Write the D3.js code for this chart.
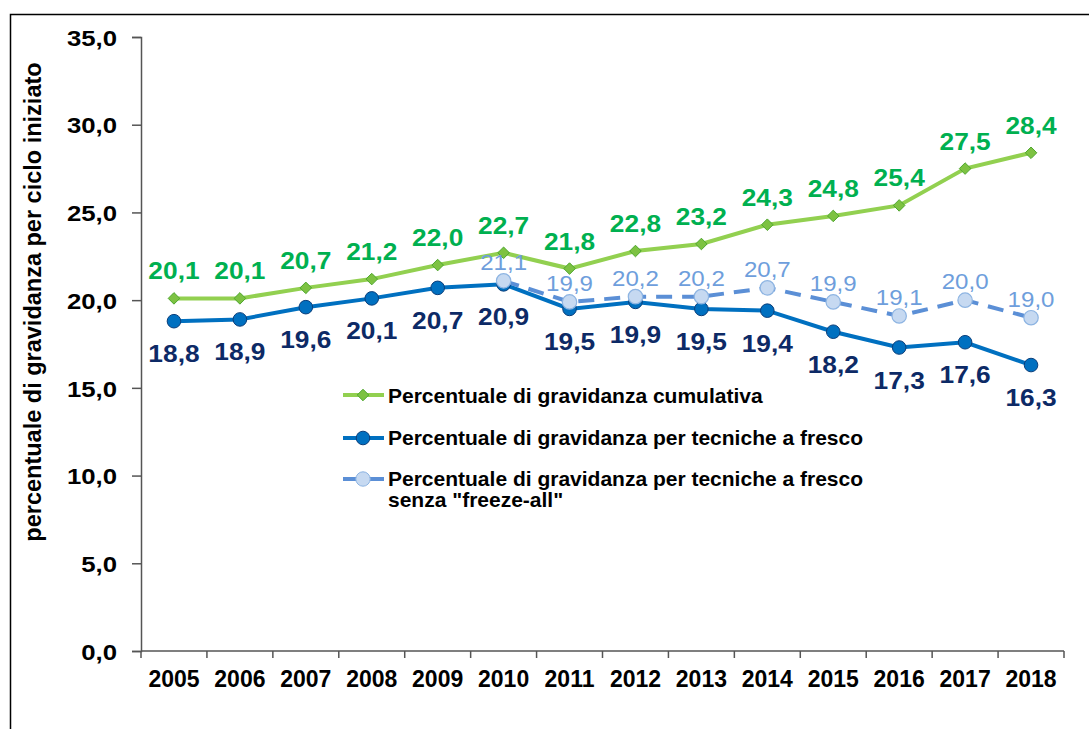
<!DOCTYPE html>
<html>
<head>
<meta charset="utf-8">
<script src="https://cdn.jsdelivr.net/npm/d3@7"></script>
<style>
  body { margin: 0; background: #fff; }
  svg { font-family: "Liberation Sans", Arial, sans-serif; }
</style>
</head>
<body>
<div class="chart"></div>
<script>
(function() {
  'use strict';

  var years = ["2005", "2006", "2007", "2008", "2009", "2010", "2011", "2012", "2013", "2014", "2015", "2016", "2017", "2018"];
  var cumulativa = [20.1, 20.1, 20.7, 21.2, 22.0, 22.7, 21.8, 22.8, 23.2, 24.3, 24.8, 25.4, 27.5, 28.4];
  var fresco = [18.8, 18.9, 19.6, 20.1, 20.7, 20.9, 19.5, 19.9, 19.5, 19.4, 18.2, 17.3, 17.6, 16.3];
  var frescoYears = ["2010", "2011", "2012", "2013", "2014", "2015", "2016", "2017", "2018"];
  var frescoNoFreeze = [21.1, 19.9, 20.2, 20.2, 20.7, 19.9, 19.1, 20.0, 19.0];
  var yTicks = [0, 5, 10, 15, 20, 25, 30, 35];

  var width = 1089, height = 729;
  var fmt = function(v) { return v.toFixed(1).replace(".", ","); };
  var stretch = 1.12; // source text is slightly wide

  var svg = d3.select(".chart").append("svg")
    .attr("width", width)
    .attr("height", height);

  // outer frame
  svg.append("path")
    .attr("d", "M10.5," + height + "V14.5H" + width)
    .attr("fill", "none")
    .attr("stroke", "#000")
    .attr("stroke-width", 1.5);

  var x = d3.scaleBand().domain(years).range([141, 1064]);
  var y = d3.scaleLinear().domain([0, 35]).range([651, 37]);
  var cx = function(yr) { return x(yr) + x.bandwidth() / 2; };

  // y axis
  var yAxis = svg.append("g")
    .attr("transform", "translate(141,0)")
    .call(d3.axisLeft(y).tickValues(yTicks).tickSize(9).tickPadding(15).tickFormat(fmt));
  yAxis.selectAll("text")
    .attr("font-size", 23).attr("font-weight", "bold").attr("fill", "#000")
    .attr("x", -24 / stretch)
    .attr("transform", "scale(" + stretch + ",1)")
    .attr("dy", "0.36em");
  yAxis.select(".domain").attr("stroke", "#555").attr("stroke-width", 1.5);
  yAxis.selectAll(".tick line").attr("stroke", "#555").attr("stroke-width", 1.5);

  // x axis with ticks between categories
  var xg = svg.append("g").attr("transform", "translate(0,651)");
  xg.append("line").attr("x1", 141).attr("x2", 1064).attr("stroke", "#555").attr("stroke-width", 1.5);
  xg.selectAll(".xt").data(years.concat(["end"])).enter().append("line")
    .attr("x1", function(d, i) { return i < years.length ? x(d) : x.range()[1]; })
    .attr("x2", function(d, i) { return i < years.length ? x(d) : x.range()[1]; })
    .attr("y1", 0).attr("y2", 7)
    .attr("stroke", "#555").attr("stroke-width", 1.5);
  xg.selectAll(".xl").data(years).enter().append("text")
    .attr("x", function(d) { return cx(d); })
    .attr("y", 36)
    .attr("text-anchor", "middle")
    .attr("font-size", 23).attr("font-weight", "bold")
    .text(function(d) { return d; });

  // y title
  svg.append("text")
    .attr("transform", "translate(41,302) rotate(-90)")
    .attr("text-anchor", "middle")
    .attr("font-size", 23.5).attr("font-weight", "bold")
    .text("percentuale di gravidanza per ciclo iniziato");

  var line = d3.line()
    .x(function(d) { return cx(d.year); })
    .y(function(d) { return y(d.v); });

  var gData = years.map(function(yr, i) { return { year: yr, v: cumulativa[i] }; });
  var bData = years.map(function(yr, i) { return { year: yr, v: fresco[i] }; });
  var dData = frescoYears.map(function(yr, i) { return { year: yr, v: frescoNoFreeze[i] }; });

  var diamond = d3.symbol().type(d3.symbolDiamond2).size(85);

  // green series
  svg.append("path").datum(gData)
    .attr("d", line).attr("fill", "none")
    .attr("stroke", "#92D050").attr("stroke-width", 4);
  svg.selectAll(".gm").data(gData).enter().append("path")
    .attr("d", diamond)
    .attr("transform", function(d) { return "translate(" + cx(d.year) + "," + y(d.v) + ")"; })
    .attr("fill", "#7DC242").attr("stroke", "#4EA72E").attr("stroke-width", 1);

  // blue series
  svg.append("path").datum(bData)
    .attr("d", line).attr("fill", "none")
    .attr("stroke", "#0070C0").attr("stroke-width", 4);
  svg.selectAll(".bm").data(bData).enter().append("circle")
    .attr("cx", function(d) { return cx(d.year); })
    .attr("cy", function(d) { return y(d.v); })
    .attr("r", 6.8)
    .attr("fill", "#0070C0").attr("stroke", "#0B3E7A").attr("stroke-width", 1);

  // dashed series
  svg.append("path").datum(dData)
    .attr("d", line).attr("fill", "none")
    .attr("stroke", "#5B8FD6").attr("stroke-width", 4)
    .attr("stroke-dasharray", "16,10");
  svg.selectAll(".dm").data(dData).enter().append("circle")
    .attr("cx", function(d) { return cx(d.year); })
    .attr("cy", function(d) { return y(d.v); })
    .attr("r", 7.2)
    .attr("fill", "#C6D9F1").attr("stroke", "#8DB4E2").attr("stroke-width", 1.2);

  // labels
  function labels(data, cls, dy, size, weight, color) {
    svg.selectAll("." + cls).data(data).enter().append("text")
      .attr("class", cls)
      .attr("transform", function(d) {
        return "translate(" + cx(d.year) + "," + (y(d.v) + dy) + ") scale(" + stretch + ",1)";
      })
      .attr("text-anchor", "middle")
      .attr("font-size", size).attr("font-weight", weight).attr("fill", color)
      .text(function(d) { return fmt(d.v); });
  }
  labels(gData, "gl", -19, 23.5, "bold", "#00B050");
  labels(bData, "bl", 41, 23.5, "bold", "#0D2A66");
  labels(dData, "dl", -11, 21.5, "normal", "#6E9EDC");

  // legend
  var legend = svg.append("g").attr("transform", "translate(343,0)");
  var lg1 = legend.append("g").attr("transform", "translate(0,395)");
  lg1.append("line").attr("x1", 0).attr("x2", 41).attr("stroke", "#92D050").attr("stroke-width", 4);
  lg1.append("path").attr("d", diamond).attr("transform", "translate(20,0)")
    .attr("fill", "#7DC242").attr("stroke", "#4EA72E");

  var lg2 = legend.append("g").attr("transform", "translate(0,438)");
  lg2.append("line").attr("x1", 0).attr("x2", 41).attr("stroke", "#0070C0").attr("stroke-width", 4);
  lg2.append("circle").attr("cx", 20).attr("r", 6.8).attr("fill", "#0070C0").attr("stroke", "#0B3E7A");

  var lg3 = legend.append("g").attr("transform", "translate(0,479)");
  lg3.append("line").attr("x1", 0).attr("x2", 41).attr("stroke", "#5B8FD6").attr("stroke-width", 4)
    .attr("stroke-dasharray", "16,10");
  lg3.append("circle").attr("cx", 20).attr("r", 7.2).attr("fill", "#C6D9F1").attr("stroke", "#8DB4E2");

  var legendText = [
    { y: 403, t: "Percentuale di gravidanza cumulativa" },
    { y: 445, t: "Percentuale di gravidanza per tecniche a fresco" },
    { y: 486, t: "Percentuale di gravidanza per tecniche a fresco" },
    { y: 507, t: "senza \"freeze-all\"" }
  ];
  legend.selectAll(".lt").data(legendText).enter().append("text")
    .attr("x", 45).attr("y", function(d) { return d.y; })
    .attr("font-size", 21).attr("font-weight", "bold")
    .text(function(d) { return d.t; });
})();
</script>
</body>
</html>
